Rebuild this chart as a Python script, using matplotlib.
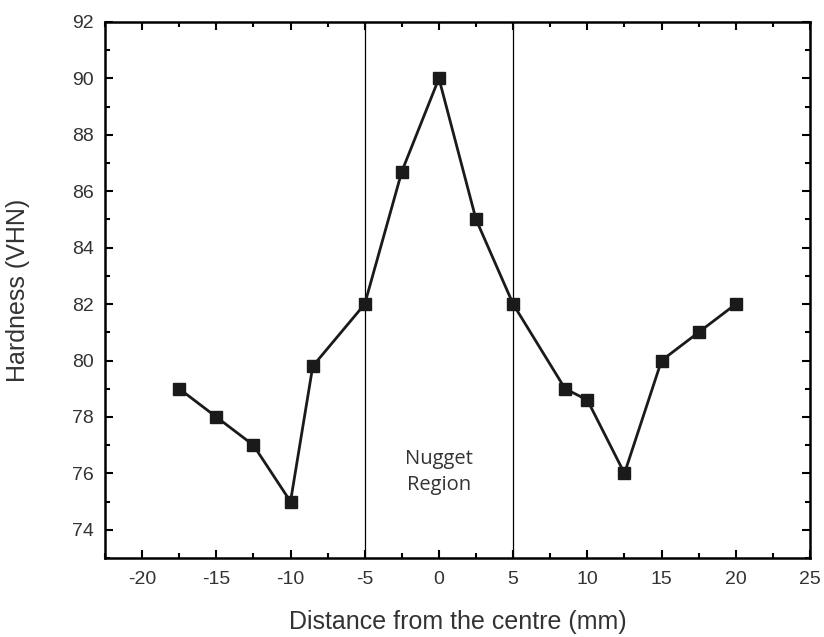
import matplotlib
matplotlib.use("Agg")
import matplotlib.pyplot as plt
from matplotlib.ticker import MultipleLocator

# distance from centre (mm) and hardness (VHN)
distance = [-17.5, -15, -12.5, -10, -8.5, -5, -2.5, 0, 2.5, 5, 8.5, 10, 12.5, 15, 17.5, 20]
hardness = [79.0, 78.0, 77.0, 75.0, 79.8, 82.0, 86.7, 90.0, 85.0, 82.0, 79.0, 78.6, 76.0, 80.0, 81.0, 82.0]
nugget_edges = [-5, 5]

plt.rcParams['font.family'] = ['Liberation Sans', 'DejaVu Sans']
plt.rcParams['axes.unicode_minus'] = False

fig = plt.figure(figsize=(8.24, 6.37), dpi=100)
ax = fig.add_axes([0.1274, 0.124, 0.8556, 0.8415])

for e in nugget_edges:
    ax.axvline(e, color='black', lw=0.9)

ax.plot(distance, hardness, color='#1a1a1a', lw=2.0, marker='s', ms=9,
        markerfacecolor='#1a1a1a', markeredgecolor='#1a1a1a')

ax.text(0, 76.05, 'Nugget\nRegion', ha='center', va='center', fontsize=14.5,
        family=['Open Sans', 'DejaVu Sans'], color='#333333', linespacing=1.45)

ax.set_xlim(-22.5, 25)
ax.set_ylim(73, 92)
ax.xaxis.set_major_locator(MultipleLocator(5))
ax.xaxis.set_minor_locator(MultipleLocator(2.5))
ax.yaxis.set_major_locator(MultipleLocator(2))
ax.yaxis.set_minor_locator(MultipleLocator(1))
ax.tick_params(which='both', direction='in', top=True, right=True, width=1.5,
               labelsize=14, labelcolor='#333333')
ax.tick_params(which='major', length=6)
ax.tick_params(which='minor', length=3.5)
ax.tick_params(axis='x', which='major', pad=9)
ax.tick_params(axis='y', which='major', pad=8)
for s in ax.spines.values():
    s.set_linewidth(1.8)

ax.set_xlabel('Distance from the centre (mm)', fontsize=18, color='#333333', labelpad=16)
ax.set_ylabel('Hardness (VHN)', fontsize=18, color='#333333', labelpad=30)

fig.savefig('out.png', dpi=100)
